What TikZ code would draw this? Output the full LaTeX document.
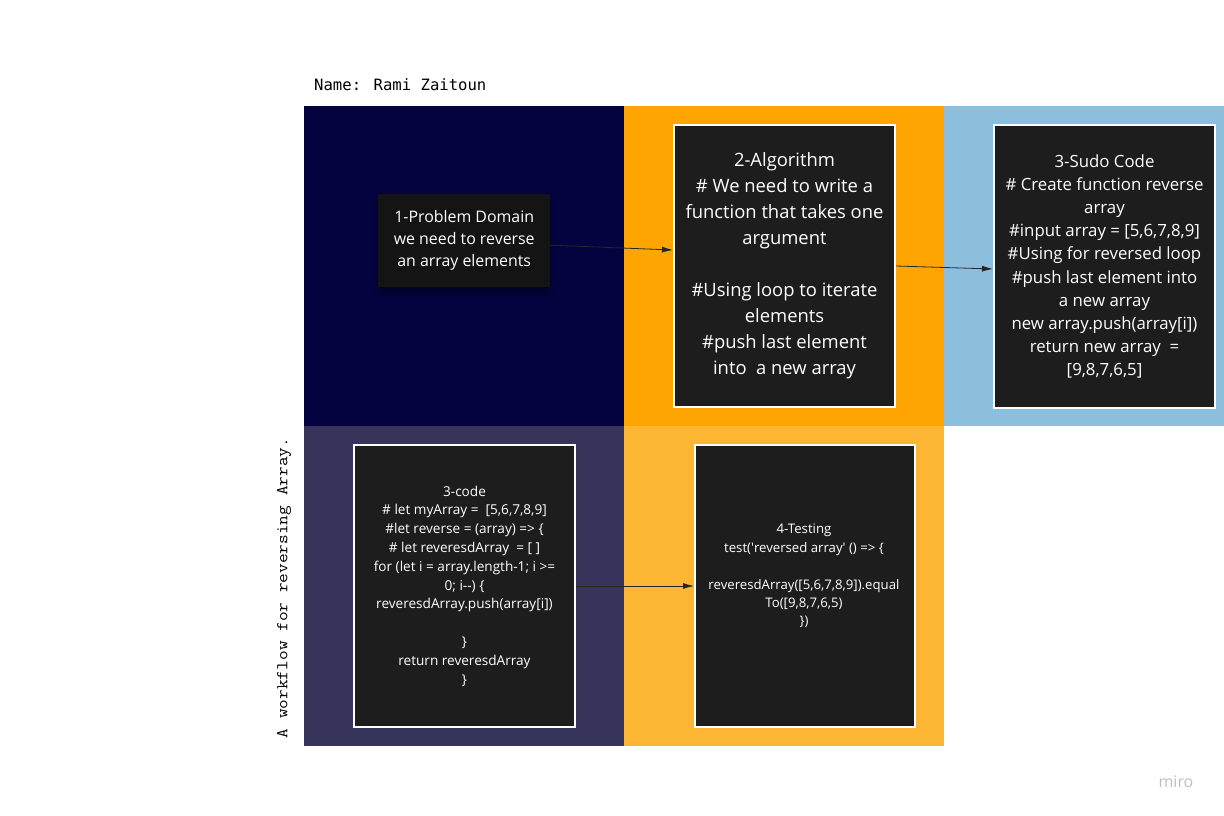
\documentclass[tikz,border=0pt]{standalone}
\usepackage{fontspec}
\setmainfont{Open Sans}
\newfontfamily\namefont{DejaVu Sans Mono}
\newfontfamily\courfont[FakeStretch=1.14]{Latin Modern Mono}
\usetikzlibrary{arrows.meta,shadows.blur}
\definecolor{navy}{HTML}{05033F}
\definecolor{orangeA}{HTML}{FEA502}
\definecolor{skyB}{HTML}{8BBFDD}
\definecolor{purpleC}{HTML}{37345C}
\definecolor{orangeD}{HTML}{FDB633}
\definecolor{boxfill}{HTML}{1D1D1D}
\tikzset{
  panel/.style={draw=none, inner sep=0pt, minimum width=320pt, minimum height=320pt, anchor=north west},
  card/.style={draw=white, line width=2pt, fill=boxfill, text=white, inner sep=0pt, align=center, anchor=north west},
  conn/.style={draw=black!85, line width=0.8pt, -{Latex[length=11pt,width=6pt]}},
}
\begin{document}
\begin{tikzpicture}[x=1pt,y=-1pt]
\useasboundingbox (0,0) rectangle (1224,816);
\fill[white] (0,0) rectangle (1224,816);
% panels
\node[panel, fill=navy] (p1) at (304,106) {};
\node[panel, fill=orangeA] (p2) at (624,106) {};
\node[panel, fill=skyB, minimum width=280pt] (p3) at (944,106) {};
\node[panel, fill=purpleC] (p4) at (304,426) {};
\node[panel, fill=orangeD] (p5) at (624,426) {};
% title texts
\node[anchor=west, inner sep=0pt, font=\namefont\fontsize{15.6}{18}\selectfont] (name) at (314,85) {Name: Rami Zaitoun};
\node[rotate=90, inner sep=0pt, font=\courfont\fontsize{16.5}{18}\selectfont] (side) at (284,588) {A workflow for reversing Array.};
% box 1
\node[draw=none, fill=black!92, text=white, inner sep=0pt, align=center, anchor=north west,
      minimum width=172pt, minimum height=93pt, font=\fontsize{15.9}{22}\selectfont,
      blur shadow={shadow xshift=0pt, shadow yshift=-7pt, shadow opacity=35, shadow blur steps=8, shadow blur radius=5pt}] (b1) at (378,194)
  {1-Problem Domain\\we need to reverse\\an array elements};
% box 2
\node[card, minimum width=221pt, minimum height=282pt, font=\fontsize{18.4}{26}\selectfont] (b2) at (673,124)
  {2-Algorithm\\\# We need to write a\\function that takes one\\argument\\[26pt]\#Using loop to iterate\\elements\\\#push last element\\into\ \ a new array};
% box 3
\node[card, minimum width=221pt, minimum height=283pt, font=\fontsize{16.8}{23.2}\selectfont] (b3) at (993,124)
  {3-Sudo Code\\\# Create function reverse\\array\\\#input array = [5,6,7,8,9]\\\#Using for reversed loop\\\#push last element into\\a new array\\new array.push(array[i])\\return new array\ \ =\\{[}9,8,7,6,5]};
% box 4
\node[card, minimum width=221pt, minimum height=282pt, font=\fontsize{13.6}{18.8}\selectfont] (b4) at (353,444)
  {3-code\\\# let myArray =\ \ [5,6,7,8,9]\\\#let reverse = (array) => \{\\\# let reveresdArray\ \ = [ ]\\for (let i = array.length-1; i >=\\0; i{-}{-}) \{\\reveresdArray.push(array[i])\\[18.8pt]\}\\return reveresdArray\\\}};
% box 5
\node[card, minimum width=220pt, minimum height=282pt, anchor=north west] (b5) at (694,444) {};
\node[inner sep=0pt, align=center, text=white, font=\fontsize{13.2}{18.4}\selectfont] (t5) at (804,576)
  {4-Testing\\test(\textquotesingle reversed array\textquotesingle\ () => \{\\[18.4pt]reveresdArray([5,6,7,8,9]).equal\\To([9,8,7,6,5)\\\})};
% connectors
\draw[conn] ([yshift=-4.5pt]b1.east) -- ([yshift=16pt]b2.west);
\draw[conn] (b2.east) -- ([yshift=-2.5pt]b3.west);
\draw[conn] (b4.east) -- (b4.east -| b5.west);
% logo
\node[text=black!25, font=\fontsize{16}{18}\selectfont] (logo) at (1176,782) {miro};
\end{tikzpicture}
\end{document}
